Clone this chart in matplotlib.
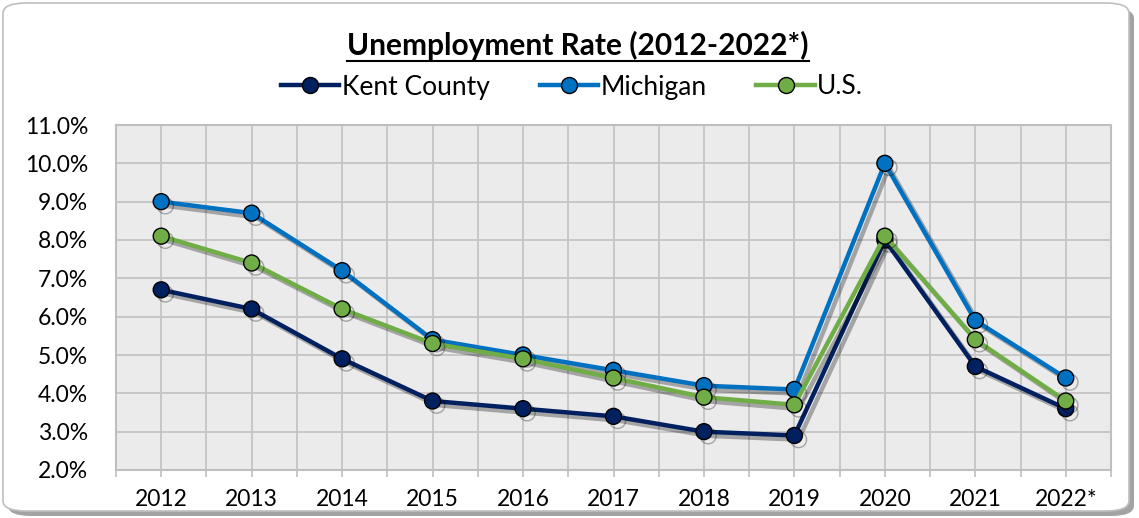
import matplotlib
matplotlib.use("Agg")
from matplotlib import pyplot as plt
from matplotlib import patheffects as pe
from matplotlib.patches import FancyBboxPatch
from matplotlib.lines import Line2D
import numpy as np

years = ['2012', '2013', '2014', '2015', '2016', '2017', '2018', '2019', '2020', '2021', '2022*']
kent = [6.7, 6.2, 4.9, 3.8, 3.6, 3.4, 3.0, 2.9, 8.0, 4.7, 3.6]
michigan = [9.0, 8.7, 7.2, 5.4, 5.0, 4.6, 4.2, 4.1, 10.0, 5.9, 4.4]
us = [8.1, 7.4, 6.2, 5.3, 4.9, 4.4, 3.9, 3.7, 8.1, 5.4, 3.8]

plt.rcParams['font.family'] = ['Lato', 'DejaVu Sans']

fig = plt.figure(figsize=(11.39, 5.18), dpi=100)

# rounded frame with shadow
shadow = FancyBboxPatch((8 / 1139, 2 / 518), 1126 / 1139, 508 / 518,
                        boxstyle="round,pad=0,rounding_size=0.02",
                        transform=fig.transFigure, facecolor='#8c8c8c',
                        edgecolor='none', zorder=-2, alpha=0.8)
frame = FancyBboxPatch((3 / 1139, 7 / 518), 1126 / 1139, 508 / 518,
                       boxstyle="round,pad=0,rounding_size=0.02",
                       transform=fig.transFigure, facecolor='white',
                       edgecolor='#bfbfbf', linewidth=1.2, zorder=-1)
fig.patches.extend([shadow, frame])

ax = fig.add_axes([116 / 1139, 1 - 470 / 518, 995 / 1139, 345 / 518])
ax.set_facecolor('#ebebeb')
x = np.arange(len(years))

series = [
    ('Kent County', kent, '#002060'),
    ('Michigan', michigan, '#0070c0'),
    ('U.S.', us, '#70ad47'),
]
shadow_fx = [pe.SimpleLineShadow(offset=(3, -3), alpha=0.3, shadow_color='black'), pe.Normal()]
handles = []
for name, vals, col in series:
    style = dict(color=col, linewidth=3.2, marker='o', markersize=11.5,
                 markerfacecolor=col, markeredgecolor='black', markeredgewidth=1.0)
    ax.plot(x, vals, zorder=3, path_effects=shadow_fx, **style)
    handles.append(Line2D([], [], label=name, **style))

ax.set_xlim(-0.5, len(years) - 0.5)
ax.set_ylim(2.0, 11.0)
ax.set_yticks(np.arange(2, 11.01, 1.0))
ax.set_yticklabels(['%.1f%%' % v for v in np.arange(2, 11.01, 1.0)])
ax.set_xticks(x)
ax.set_xticklabels(years)
ax.set_xticks(np.arange(-0.5, len(years), 1.0), minor=True)
ax.grid(True, which='both', axis='x', color='#c4c4c4', linewidth=1.3, zorder=0)
ax.grid(True, which='major', axis='y', color='#c4c4c4', linewidth=1.3, zorder=0)
ax.set_axisbelow(True)
ax.tick_params(axis='x', which='both', length=5, color='#c4c4c4', width=1.3,
               labelsize=16.5, pad=9)
ax.tick_params(axis='y', length=0, labelsize=16.5, pad=20)
for s in ax.spines.values():
    s.set_color('#bfbfbf')
    s.set_linewidth(1.5)

title = fig.text(578 / 1139, 1 - 45 / 518, 'Unemployment Rate (2012-2022*)',
                 ha='center', va='center', fontsize=21.5, fontweight='bold')
fig.canvas.draw()
bb = title.get_window_extent()
uy = (bb.y0 - 1) / fig.bbox.height
fig.add_artist(Line2D([bb.x0 / fig.bbox.width, bb.x1 / fig.bbox.width], [uy, uy],
                      transform=fig.transFigure, color='black', linewidth=1.5))

leg = fig.legend(handles=handles, loc='center', bbox_to_anchor=(572 / 1139, 1 - 87 / 518),
                 ncol=3, frameon=False, fontsize=19, handlelength=2.2,
                 handletextpad=0.1, columnspacing=1.9)

fig.savefig('out.png', dpi=100)
